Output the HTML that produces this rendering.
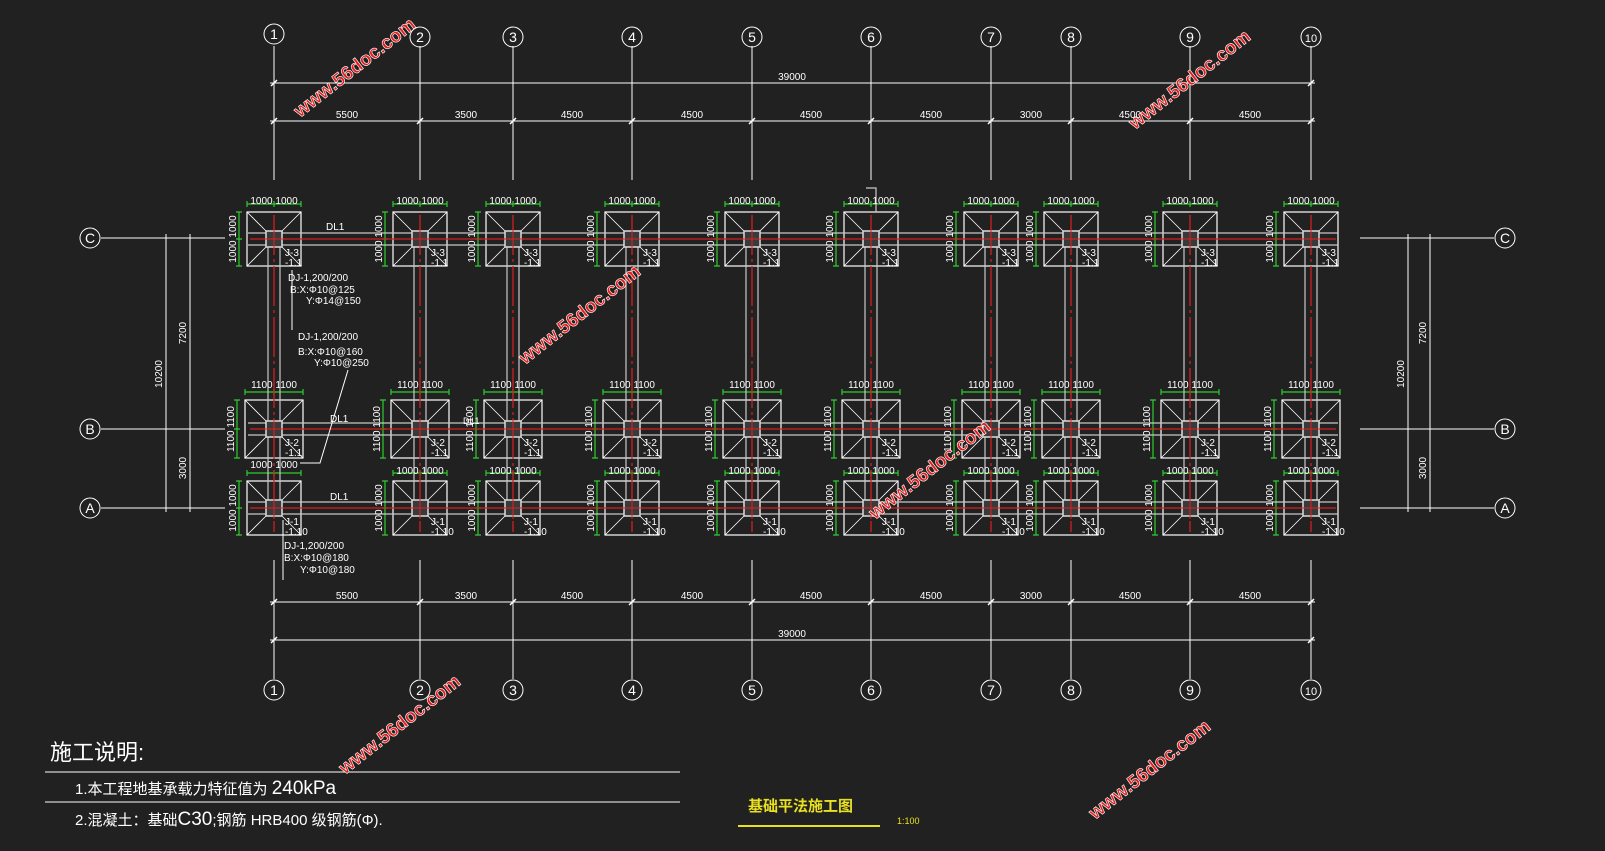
<!DOCTYPE html>
<html><head><meta charset="utf-8"><style>
html,body{margin:0;padding:0;background:#212121;}
svg{display:block;font-family:"Liberation Sans","Noto Sans CJK SC",sans-serif;}
.w{fill:#fff;font-size:10px;}
.g{fill:#fff;font-size:10px;}
.wm{fill:#e02020;stroke:#fff;stroke-width:0.6;font-size:19px;font-weight:bold;}
</style></head><body>
<svg width="1605" height="851" viewBox="0 0 1605 851" xmlns="http://www.w3.org/2000/svg">
<rect width="1605" height="851" fill="#212121"/>
<defs>
<g id="f27">
<rect x="-27" y="-27" width="54" height="54" fill="none" stroke="#fff" stroke-width="1.2"/>
<path d="M-27-27L-8-8M27-27L8-8M-27 27L-8 8M27 27L8 8" stroke="#fff" stroke-width="0.8"/>
<path d="M-27-35H27M-27-38V-32M0-38V-32M27-38V-32M-35-27V27M-38-27H-32M-38 0H-32M-38 27H-32" stroke="#2ecc2e" stroke-width="1.2"/>
</g>
<g id="f29">
<rect x="-29" y="-29" width="58" height="58" fill="none" stroke="#fff" stroke-width="1.2"/>
<path d="M-29-29L-8-8M29-29L8-8M-29 29L-8 8M29 29L8 8" stroke="#fff" stroke-width="0.8"/>
<path d="M-29-37H29M-29-40V-34M0-40V-34M29-40V-34M-37-29V29M-40-29H-34M-40 0H-34M-40 29H-34" stroke="#2ecc2e" stroke-width="1.2"/>
</g>
<g id="col"><rect x="-8" y="-8" width="16" height="16" fill="#3a3a3a" stroke="#ddd" stroke-width="1.5"/><path d="M-11 0H11M0-11V11" stroke="#e02020" stroke-width="1"/></g>
</defs>

<!-- axis lines top/bottom -->
<g stroke="#fff" stroke-width="1" fill="none">
<path d="M274 46V180M420 46V180M513 46V180M632 46V180M752 46V180M871 46V180M991 46V180M1071 46V180M1190 46V180M1311 46V180"/>
<path d="M274 560V679M420 560V679M513 560V679M632 560V679M752 560V679M871 560V679M991 560V679M1071 560V679M1190 560V679M1311 560V679"/>
<path d="M270 83H1315M270 121H1315M270 602H1315M270 640H1315"/>
<path d="M101 238H225M101 429H225M101 508H225M1360 238H1494M1360 429H1494M1360 508H1494"/>
<path d="M166 234V512M190 234V512M160 238H196M160 429H196M160 508H196M1408 234V512M1430 234V512M1402 238H1436M1402 429H1436M1402 508H1436"/>
</g>
<g stroke="#fff" stroke-width="1.5">
<path d="M271 86l6-6M1308 86l6-6M271 124l6-6M417 124l6-6M510 124l6-6M629 124l6-6M749 124l6-6M868 124l6-6M988 124l6-6M1068 124l6-6M1187 124l6-6M1308 124l6-6"/>
<path d="M271 605l6-6M417 605l6-6M510 605l6-6M629 605l6-6M749 605l6-6M868 605l6-6M988 605l6-6M1068 605l6-6M1187 605l6-6M1308 605l6-6M271 643l6-6M1308 643l6-6"/>
</g>
<g fill="none" stroke="#fff" stroke-width="1">
<circle cx="274" cy="34" r="10"/><circle cx="420" cy="37" r="10"/><circle cx="513" cy="37" r="10"/><circle cx="632" cy="37" r="10"/><circle cx="752" cy="37" r="10"/><circle cx="871" cy="37" r="10"/><circle cx="991" cy="37" r="10"/><circle cx="1071" cy="37" r="10"/><circle cx="1190" cy="37" r="10"/><circle cx="1311" cy="37" r="10"/>
<circle cx="274" cy="690" r="10"/><circle cx="420" cy="690" r="10"/><circle cx="513" cy="690" r="10"/><circle cx="632" cy="690" r="10"/><circle cx="752" cy="690" r="10"/><circle cx="871" cy="690" r="10"/><circle cx="991" cy="690" r="10"/><circle cx="1071" cy="690" r="10"/><circle cx="1190" cy="690" r="10"/><circle cx="1311" cy="690" r="10"/>
<circle cx="90" cy="238" r="10"/><circle cx="90" cy="429" r="10"/><circle cx="90" cy="508" r="10"/><circle cx="1505" cy="238" r="10"/><circle cx="1505" cy="429" r="10"/><circle cx="1505" cy="508" r="10"/>
</g>
<g fill="#fff" font-size="14" text-anchor="middle">
<text x="274" y="39">1</text><text x="420" y="42">2</text><text x="513" y="42">3</text><text x="632" y="42">4</text><text x="752" y="42">5</text><text x="871" y="42">6</text><text x="991" y="42">7</text><text x="1071" y="42">8</text><text x="1190" y="42">9</text><text x="1311" y="42" font-size="11">10</text>
<text x="274" y="695">1</text><text x="420" y="695">2</text><text x="513" y="695">3</text><text x="632" y="695">4</text><text x="752" y="695">5</text><text x="871" y="695">6</text><text x="991" y="695">7</text><text x="1071" y="695">8</text><text x="1190" y="695">9</text><text x="1311" y="695" font-size="11">10</text>
<text x="90" y="243">C</text><text x="90" y="434">B</text><text x="90" y="513">A</text><text x="1505" y="243">C</text><text x="1505" y="434">B</text><text x="1505" y="513">A</text>
</g>
<g class="w" text-anchor="middle" font-size="9">
<text x="792" y="80">39000</text><text x="792" y="637">39000</text>
<text x="347" y="118">5500</text><text x="466" y="118">3500</text><text x="572" y="118">4500</text><text x="692" y="118">4500</text><text x="811" y="118">4500</text><text x="931" y="118">4500</text><text x="1031" y="118">3000</text><text x="1130" y="118">4500</text><text x="1250" y="118">4500</text>
<text x="347" y="599">5500</text><text x="466" y="599">3500</text><text x="572" y="599">4500</text><text x="692" y="599">4500</text><text x="811" y="599">4500</text><text x="931" y="599">4500</text><text x="1031" y="599">3000</text><text x="1130" y="599">4500</text><text x="1250" y="599">4500</text>
<text transform="translate(162,374) rotate(-90)">10200</text><text transform="translate(186,333) rotate(-90)">7200</text><text transform="translate(186,468) rotate(-90)">3000</text>
<text transform="translate(1404,374) rotate(-90)">10200</text><text transform="translate(1426,333) rotate(-90)">7200</text><text transform="translate(1426,468) rotate(-90)">3000</text>
</g>

<!-- footings -->
<g>
<use href="#f27" x="274" y="239"/><use href="#f27" x="420" y="239"/><use href="#f27" x="513" y="239"/><use href="#f27" x="632" y="239"/><use href="#f27" x="752" y="239"/><use href="#f27" x="871" y="239"/><use href="#f27" x="991" y="239"/><use href="#f27" x="1071" y="239"/><use href="#f27" x="1190" y="239"/><use href="#f27" x="1311" y="239"/>
<use href="#f29" x="274" y="429"/><use href="#f29" x="420" y="429"/><use href="#f29" x="513" y="429"/><use href="#f29" x="632" y="429"/><use href="#f29" x="752" y="429"/><use href="#f29" x="871" y="429"/><use href="#f29" x="991" y="429"/><use href="#f29" x="1071" y="429"/><use href="#f29" x="1190" y="429"/><use href="#f29" x="1311" y="429"/>
<use href="#f27" x="274" y="508"/><use href="#f27" x="420" y="508"/><use href="#f27" x="513" y="508"/><use href="#f27" x="632" y="508"/><use href="#f27" x="752" y="508"/><use href="#f27" x="871" y="508"/><use href="#f27" x="991" y="508"/><use href="#f27" x="1071" y="508"/><use href="#f27" x="1190" y="508"/><use href="#f27" x="1311" y="508"/>
</g>
<!-- beams -->
<g stroke="#c8c8c8" stroke-width="1.2" fill="none">
<path d="M248 233H1338M248 245H1338M248 423H1338M248 435H1338M248 502H1338M248 514H1338"/>
<path d="M268 245V502M280 245V502M414 245V502M426 245V502M507 245V502M519 245V502M626 245V502M638 245V502M746 245V502M758 245V502M865 245V502M877 245V502M985 245V502M997 245V502M1065 245V502M1077 245V502M1184 245V502M1196 245V502M1305 245V502M1317 245V502"/>
<path d="M866 188H876V212"/>
</g>
<g stroke="#d02020" stroke-width="1.3" fill="none">
<path d="M250 239H1336M250 429H1336M250 508H1336"/>
<path d="M274 215V532M420 215V532M513 215V532M632 215V532M752 215V532M871 215V532M991 215V532M1071 215V532M1190 215V532M1311 215V532" stroke-dasharray="40 4 3 4"/>
</g>
<g>
<use href="#col" x="274" y="239"/><use href="#col" x="420" y="239"/><use href="#col" x="513" y="239"/><use href="#col" x="632" y="239"/><use href="#col" x="752" y="239"/><use href="#col" x="871" y="239"/><use href="#col" x="991" y="239"/><use href="#col" x="1071" y="239"/><use href="#col" x="1190" y="239"/><use href="#col" x="1311" y="239"/>
<use href="#col" x="274" y="429"/><use href="#col" x="420" y="429"/><use href="#col" x="513" y="429"/><use href="#col" x="632" y="429"/><use href="#col" x="752" y="429"/><use href="#col" x="871" y="429"/><use href="#col" x="991" y="429"/><use href="#col" x="1071" y="429"/><use href="#col" x="1190" y="429"/><use href="#col" x="1311" y="429"/>
<use href="#col" x="274" y="508"/><use href="#col" x="420" y="508"/><use href="#col" x="513" y="508"/><use href="#col" x="632" y="508"/><use href="#col" x="752" y="508"/><use href="#col" x="871" y="508"/><use href="#col" x="991" y="508"/><use href="#col" x="1071" y="508"/><use href="#col" x="1190" y="508"/><use href="#col" x="1311" y="508"/>
</g>
<!-- footing dim texts -->
<g class="g" text-anchor="middle" font-size="10">
<text x="274" y="204">1000 1000</text><text x="420" y="204">1000 1000</text><text x="513" y="204">1000 1000</text><text x="632" y="204">1000 1000</text><text x="752" y="204">1000 1000</text><text x="871" y="204">1000 1000</text><text x="991" y="204">1000 1000</text><text x="1071" y="204">1000 1000</text><text x="1190" y="204">1000 1000</text><text x="1311" y="204">1000 1000</text>
<text x="274" y="388">1100 1100</text><text x="420" y="388">1100 1100</text><text x="513" y="388">1100 1100</text><text x="632" y="388">1100 1100</text><text x="752" y="388">1100 1100</text><text x="871" y="388">1100 1100</text><text x="991" y="388">1100 1100</text><text x="1071" y="388">1100 1100</text><text x="1190" y="388">1100 1100</text><text x="1311" y="388">1100 1100</text>
<text x="274" y="468">1000 1000</text><text x="420" y="474">1000 1000</text><text x="513" y="474">1000 1000</text><text x="632" y="474">1000 1000</text><text x="752" y="474">1000 1000</text><text x="871" y="474">1000 1000</text><text x="991" y="474">1000 1000</text><text x="1071" y="474">1000 1000</text><text x="1190" y="474">1000 1000</text><text x="1311" y="474">1000 1000</text>
<text transform="translate(236,239) rotate(-90)">1000 1000</text><text transform="translate(382,239) rotate(-90)">1000 1000</text><text transform="translate(475,239) rotate(-90)">1000 1000</text><text transform="translate(594,239) rotate(-90)">1000 1000</text><text transform="translate(714,239) rotate(-90)">1000 1000</text><text transform="translate(833,239) rotate(-90)">1000 1000</text><text transform="translate(953,239) rotate(-90)">1000 1000</text><text transform="translate(1033,239) rotate(-90)">1000 1000</text><text transform="translate(1152,239) rotate(-90)">1000 1000</text><text transform="translate(1273,239) rotate(-90)">1000 1000</text>
<text transform="translate(234,429) rotate(-90)">1100 1100</text><text transform="translate(380,429) rotate(-90)">1100 1100</text><text transform="translate(473,429) rotate(-90)">1100 1100</text><text transform="translate(592,429) rotate(-90)">1100 1100</text><text transform="translate(712,429) rotate(-90)">1100 1100</text><text transform="translate(831,429) rotate(-90)">1100 1100</text><text transform="translate(951,429) rotate(-90)">1100 1100</text><text transform="translate(1031,429) rotate(-90)">1100 1100</text><text transform="translate(1150,429) rotate(-90)">1100 1100</text><text transform="translate(1271,429) rotate(-90)">1100 1100</text>
<text transform="translate(236,508) rotate(-90)">1000 1000</text><text transform="translate(382,508) rotate(-90)">1000 1000</text><text transform="translate(475,508) rotate(-90)">1000 1000</text><text transform="translate(594,508) rotate(-90)">1000 1000</text><text transform="translate(714,508) rotate(-90)">1000 1000</text><text transform="translate(833,508) rotate(-90)">1000 1000</text><text transform="translate(953,508) rotate(-90)">1000 1000</text><text transform="translate(1033,508) rotate(-90)">1000 1000</text><text transform="translate(1152,508) rotate(-90)">1000 1000</text><text transform="translate(1273,508) rotate(-90)">1000 1000</text>
</g>
<!-- J labels -->
<g class="w" font-size="10">
<text x="285" y="256">J-3</text><text x="431" y="256">J-3</text><text x="524" y="256">J-3</text><text x="643" y="256">J-3</text><text x="763" y="256">J-3</text><text x="882" y="256">J-3</text><text x="1002" y="256">J-3</text><text x="1082" y="256">J-3</text><text x="1201" y="256">J-3</text><text x="1322" y="256">J-3</text>
<text x="285" y="266">-1.1</text><text x="431" y="266">-1.1</text><text x="524" y="266">-1.1</text><text x="643" y="266">-1.1</text><text x="763" y="266">-1.1</text><text x="882" y="266">-1.1</text><text x="1002" y="266">-1.1</text><text x="1082" y="266">-1.1</text><text x="1201" y="266">-1.1</text><text x="1322" y="266">-1.1</text>
<text x="285" y="446">J-2</text><text x="431" y="446">J-2</text><text x="524" y="446">J-2</text><text x="643" y="446">J-2</text><text x="763" y="446">J-2</text><text x="882" y="446">J-2</text><text x="1002" y="446">J-2</text><text x="1082" y="446">J-2</text><text x="1201" y="446">J-2</text><text x="1322" y="446">J-2</text>
<text x="285" y="456">-1.1</text><text x="431" y="456">-1.1</text><text x="524" y="456">-1.1</text><text x="643" y="456">-1.1</text><text x="763" y="456">-1.1</text><text x="882" y="456">-1.1</text><text x="1002" y="456">-1.1</text><text x="1082" y="456">-1.1</text><text x="1201" y="456">-1.1</text><text x="1322" y="456">-1.1</text>
<text x="285" y="525">J-1</text><text x="431" y="525">J-1</text><text x="524" y="525">J-1</text><text x="643" y="525">J-1</text><text x="763" y="525">J-1</text><text x="882" y="525">J-1</text><text x="1002" y="525">J-1</text><text x="1082" y="525">J-1</text><text x="1201" y="525">J-1</text><text x="1322" y="525">J-1</text>
<text x="285" y="535">-1.10</text><text x="431" y="535">-1.10</text><text x="524" y="535">-1.10</text><text x="643" y="535">-1.10</text><text x="763" y="535">-1.10</text><text x="882" y="535">-1.10</text><text x="1002" y="535">-1.10</text><text x="1082" y="535">-1.10</text><text x="1201" y="535">-1.10</text><text x="1322" y="535">-1.10</text>
</g>
<g class="w" font-size="13">
<text x="326" y="230">DL1</text><text x="330" y="422">DL1</text><text x="330" y="500">DL1</text>
<text x="463" y="424" font-size="9">DL1</text>
</g>
<!-- annotations -->
<g class="w" font-size="11">
<text x="288" y="281">DJ-1,200/200</text><text x="290" y="293">B:X:Φ10@125</text><text x="306" y="304">Y:Φ14@150</text>
<text x="298" y="340">DJ-1,200/200</text><text x="298" y="355">B:X:Φ10@160</text><text x="314" y="366">Y:Φ10@250</text>
<text x="284" y="549">DJ-1,200/200</text><text x="284" y="561">B:X:Φ10@180</text><text x="300" y="573">Y:Φ10@180</text>
</g>
<g stroke="#fff" stroke-width="1" fill="none">
<path d="M292 270V330M348 370L320 463H300M283 520V580"/>
</g>
<!-- notes -->
<g fill="#fff">
<text x="50" y="760" font-size="22">施工说明:</text>
<text x="75" y="794" font-size="15">1.本工程地基承载力特征值为 <tspan font-size="19">240kPa</tspan></text>
<text x="75" y="825" font-size="15">2.混凝土：基础<tspan font-size="19">C30</tspan>;钢筋 HRB400 级钢筋(Φ).</text>
</g>
<path d="M45 772H680M45 802H680" stroke="#fff" stroke-width="1"/>
<text x="748" y="811" font-size="15" fill="#e8e020" font-weight="bold">基础平法施工图</text>
<path d="M738 826H880" stroke="#e8e020" stroke-width="2"/>
<text x="897" y="824" font-size="9" fill="#e8e020">1:100</text>
<!-- watermarks -->
<g class="wm">
<text transform="translate(300,118) rotate(-38)">www.56doc.com</text>
<text transform="translate(1135,130) rotate(-38)">www.56doc.com</text>
<text transform="translate(525,365) rotate(-38)">www.56doc.com</text>
<text transform="translate(875,520) rotate(-38)">www.56doc.com</text>
<text transform="translate(345,775) rotate(-38)">www.56doc.com</text>
<text transform="translate(1095,820) rotate(-38)">www.56doc.com</text>
</g>
</svg>
</body></html>
